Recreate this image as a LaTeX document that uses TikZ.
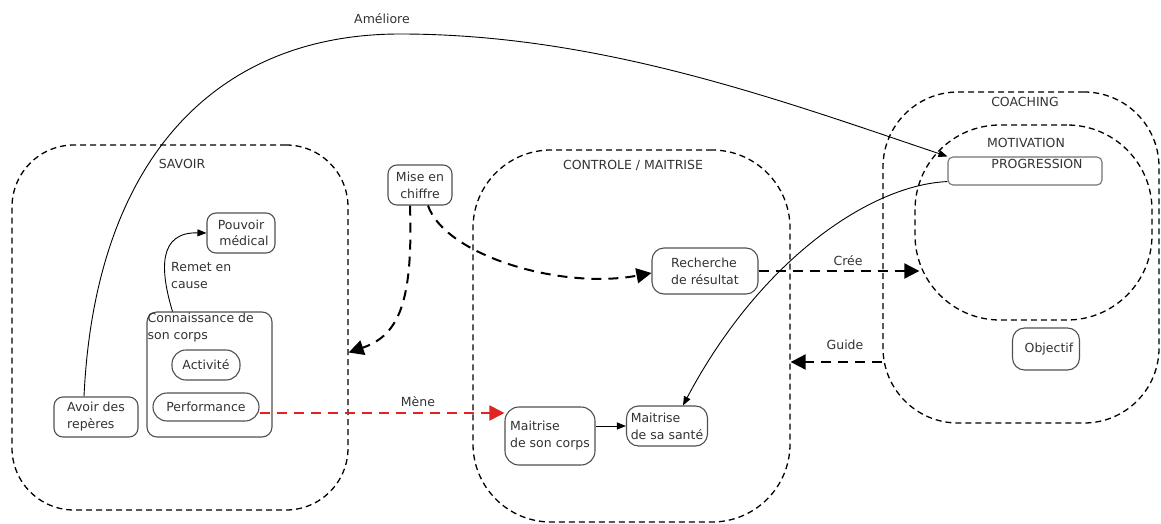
\documentclass[tikz,border=0pt]{standalone}
\usepackage{fontspec}
\setmainfont{DejaVu Sans}
\usetikzlibrary{arrows.meta}
\definecolor{txt}{HTML}{333333}
\definecolor{edge}{HTML}{505050}
\definecolor{redline}{HTML}{E02424}
\begin{document}
\begin{tikzpicture}[x=1pt,y=-1pt,
  font=\fontsize{12.5}{17}\selectfont,
  every node/.style={text=txt},
  container/.style={draw=black, line width=1.3pt, dash pattern=on 6pt off 4pt, rounded corners=#1, inner sep=0pt},
  container/.default=62pt,
  box/.style={draw=edge, line width=1.1pt, rounded corners=9pt, fill=white, inner sep=3pt},
  lbl/.style={inner sep=1pt},
  thin arrow/.style={draw=black, line width=0.9pt, -{Triangle[length=9pt,width=7pt]}},
  big dash/.style={draw=black, line width=2pt, dash pattern=on 10pt off 7pt, -{Triangle[length=15pt,width=15pt]}},
  red dash/.style={draw=redline, line width=2pt, dash pattern=on 10pt off 7pt, -{Triangle[length=15pt,width=15pt,fill=redline]}}
]
\useasboundingbox (0,0) rectangle (1161,524);

% containers
\node[container=62pt, minimum width=336pt, minimum height=365pt] (savoir) at (180,327.5) {};
\node[container=78pt, minimum width=317pt, minimum height=372pt] (controle) at (631.5,336) {};
\node[container=75pt, minimum width=276pt, minimum height=331pt] (coaching) at (1021,257.5) {};
\node[container=85pt, minimum width=237pt, minimum height=195pt] (motivation) at (1033.5,222.5) {};

\node[lbl] (savoirlbl) at (182,164) {SAVOIR};
\node[lbl] (controlelbl) at (633,165) {CONTROLE / MAITRISE};
\node[lbl] (coachinglbl) at (1025,102) {COACHING};
\node[lbl] (motivationlbl) at (1026,143) {MOTIVATION};

% nodes
\node[box, minimum width=68pt, minimum height=40pt, align=center] (pouvoir) at (241,233) {Pouvoir\\[-1pt]\hspace*{6pt}médical};
\node[box, rounded corners=10pt, minimum width=125pt, minimum height=125pt,
  label={[anchor=north west, inner sep=1pt, align=left, text=txt]north west:Connaissance de\\son corps}] (conn) at (209.5,374.5) {};
\node[box, rounded corners=14pt, minimum width=68pt, minimum height=30pt] (activite) at (206,365) {Activité};
\node[box, rounded corners=14pt, minimum width=106pt, minimum height=28pt] (perf) at (206,407) {Performance};
\node[box, minimum width=84pt, minimum height=40pt, align=left] (avoir) at (96,417) {Avoir des\\repères};
\node[box, minimum width=64pt, minimum height=40pt, align=center] (mise) at (420,185) {Mise en\\chiffre};
\node[box, rounded corners=12pt, minimum width=106pt, minimum height=46pt, align=left] (recherche) at (705,271) {Recherche\\de résultat};
\node[box, rounded corners=14pt, minimum width=90pt, minimum height=58pt, align=left] (mcorps) at (550,436) {Maitrise\\de son corps};
\node[box, rounded corners=12pt, minimum width=81pt, minimum height=40pt, align=left] (msante) at (667,426) {Maitrise\\de sa santé};
\node[box, draw=edge!80, rounded corners=5pt, minimum width=154pt, minimum height=28pt,
  label={[anchor=north, inner sep=1pt, xshift=12pt, yshift=-2pt, text=txt]north:PROGRESSION}] (progression) at (1025,171) {};
\node[box, rounded corners=12pt, minimum width=67pt, minimum height=42pt] (objectif) at (1046,349) {\hspace*{6pt}Objectif};

% connectors
\draw[thin arrow] ([xshift=-12pt]avoir.north) .. controls (95,160) and (215,34) .. (400,34)
  .. controls (600,34) and (780,100) .. (progression.north west);
\node[lbl] (amelioretxt) at (382,19) {Améliore};

\draw[thin arrow] ([xshift=-37pt]conn.north) .. controls (160,270) and (158,232) .. (pouvoir.west);
\node[lbl, anchor=north west, align=left] (remettxt) at (170,261) {Remet en\\cause};

\draw[big dash] ([xshift=-10pt]mise.south) .. controls (413,300) and (400,335) .. ([yshift=-25pt]savoir.east);
\draw[big dash] ([xshift=8pt]mise.south) .. controls (445,255) and (560,290) .. ([yshift=-2pt]recherche.west);

\coordinate (creeend) at ([xshift=5pt]recherche.east -| motivation.west);
\draw[big dash] (recherche.east) -- (creeend);
\node[lbl] (creetxt) at (848,261) {Crée};

\coordinate (guidestart) at ([yshift=-104.5pt]coaching.west);
\draw[big dash] (guidestart) -- (guidestart -| controle.east);
\node[lbl] (guidetxt) at (845,345) {Guide};

\draw[red dash] ([yshift=-6pt]perf.east) -- ([yshift=-6pt]perf.east -| mcorps.west);
\node[lbl] (menetxt) at (418,402) {Mène};

\draw[thin arrow] (msante.west -| mcorps.east) -- (msante.west);

\draw[thin arrow] ([yshift=4pt]progression.south west) .. controls (870,185) and (760,260) .. ([xshift=16pt]msante.north);
\end{tikzpicture}
\end{document}
